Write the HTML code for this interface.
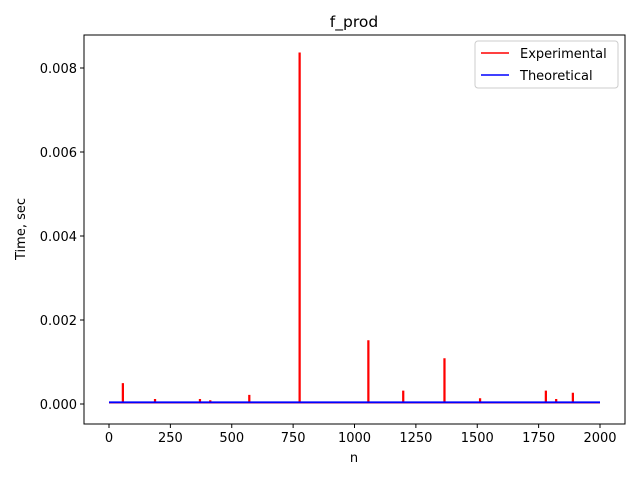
<!DOCTYPE html>
<html><head><meta charset="utf-8"><style>body{margin:0;background:#fff}svg{display:block;font-family:"DejaVu Sans","Liberation Sans",sans-serif}</style></head>
<body>
<svg id="chart" width="640" height="480"></svg>
<script>
const baseN=[0,2000];
const baseV=0.00003;
const spikeN=[55,186,369,411,570,775,1055,1197,1365,1510,1778,1820,1888];
const spikeV=[0.00048,0.0001,0.0001,0.00007,0.0002,0.00835,0.0015,0.0003,0.00107,0.00012,0.0003,0.0001,0.00025];
const theoN=[0,2000];
const theoV=[0.00004,0.00004];
const xTicks=[0,250,500,750,1000,1250,1500,1750,2000];
const yTicks=[0,0.002,0.004,0.006,0.008];
const yLabels=["0.000","0.002","0.004","0.006","0.008"];
const NS="http://www.w3.org/2000/svg";
const svg=document.getElementById('chart');
const L=84,R=625,T=35,B=424;
const xs=n=>109+n*(600-109)/2000;
const ys=v=>404-v*42000;
function mk(t,a,p){const e=document.createElementNS(NS,t);for(const k in a)e.setAttribute(k,a[k]);(p||svg).appendChild(e);return e;}
const frame=mk('rect',{x:L,y:T,width:R-L,height:B-T,fill:'none',stroke:'#000','stroke-width':1});


xTicks.forEach(t=>{
 const l=mk('line',{x1:xs(t),x2:xs(t),y1:B,y2:B+4,stroke:'#000'});
 
 
 const tx=mk('text',{x:xs(t),y:B+18,'text-anchor':'middle','font-size':13});tx.textContent=t;
 
 
});
yTicks.forEach((t,i)=>{
 const l=mk('line',{x1:L-4,x2:L,y1:ys(t),y2:ys(t),stroke:'#000'});
 
 
 const tx=mk('text',{x:L-7,y:ys(t)+5,'text-anchor':'end','font-size':13});tx.textContent=yLabels[i];
 
 
});
let pts=[[baseN[0],baseV]];
spikeN.forEach((n,i)=>{pts.push([n,baseV],[n,spikeV[i]],[n+3,spikeV[i]],[n+3,baseV]);});
pts.push([baseN[1],baseV]);
const pe=mk('polyline',{points:pts.map(p=>xs(p[0])+','+ys(p[1])).join(' '),fill:'none',stroke:'#ff0000','stroke-width':1.5});


const pt=mk('polyline',{points:theoN.map((n,i)=>xs(n)+','+ys(theoV[i])).join(' '),fill:'none',stroke:'#0000ff','stroke-width':1.8});


</script>
<svg style="position:absolute;left:0;top:0" width="640" height="480">
<text x="354" y="27" text-anchor="middle" font-size="15.5">f_prod</text>
<text x="354" y="462" text-anchor="middle" font-size="13">n</text>
<text x="25" y="229" text-anchor="middle" font-size="13" transform="rotate(-90 25 229)">Time, sec</text>
<g>
<rect x="475" y="41" width="143" height="47" rx="3" fill="#fff" stroke="#ccc"/>
<line x1="481" x2="509" y1="53" y2="53" stroke="#ff0000" stroke-width="1.5"/>
<text x="520" y="58" font-size="13">Experimental</text>
<line x1="481" x2="509" y1="75" y2="75" stroke="#0000ff" stroke-width="1.5"/>
<text x="520" y="80" font-size="13">Theoretical</text>
</g>
</svg>
</body></html>
